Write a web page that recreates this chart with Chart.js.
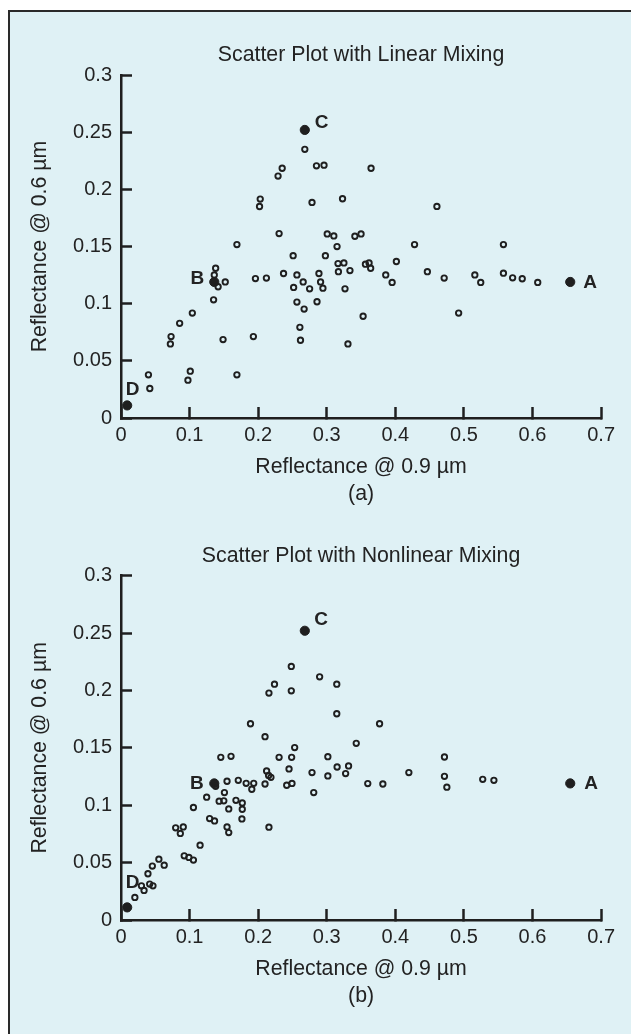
<!DOCTYPE html>
<html>
<head>
<meta charset="utf-8">
<script src="https://cdn.jsdelivr.net/npm/chart.js@4.4.1/dist/chart.umd.min.js"></script>
<style>
  html, body { margin: 0; padding: 0; background: #fff; }
  body { width: 631px; height: 1034px; position: relative; overflow: hidden; }
  .panel { position: absolute; left: 8px; top: 10px; width: 660px; height: 1060px;
           background: #dff1f5; border: 2px solid #2a2a2a; box-sizing: border-box; }
  .wrap { position: absolute; left: 0; width: 631px; }
  #wrapA { top: 0; height: 520px; }
  #wrapB { top: 520px; height: 514px; }
</style>
</head>
<body>
<div class="panel"></div>
<div class="wrap" id="wrapA"><canvas id="chartA"></canvas></div>
<div class="wrap" id="wrapB"><canvas id="chartB"></canvas></div>
<script>
// ---- data ----
const xTickValues = [0, 0.1, 0.2, 0.3, 0.4, 0.5, 0.6, 0.7]
const xTickLabels = ['0', '0.1', '0.2', '0.3', '0.4', '0.5', '0.6', '0.7']
const yTickValues = [0, 0.05, 0.1, 0.15, 0.2, 0.25, 0.3]
const yTickLabels = ['0', '0.05', '0.1', '0.15', '0.2', '0.25', '0.3']

const endmemberNames = ['A', 'B', 'C', 'D']
const endmemberX = [0.655, 0.136, 0.268, 0.009]
const endmemberY = [0.119, 0.119, 0.252, 0.011]

// (a) linear mixing
const linearX = [0.268, 0.235, 0.229, 0.285, 0.296, 0.203, 0.202, 0.2785, 0.323, 0.169,
  0.2305, 0.3007, 0.3103, 0.315, 0.341, 0.350, 0.251, 0.298, 0.3646, 0.4606,
  0.428, 0.5576, 0.138, 0.136, 0.1416, 0.152, 0.135, 0.104, 0.0855, 0.073,
  0.072, 0.1488, 0.040, 0.042, 0.101, 0.0976, 0.169, 0.193, 0.196, 0.212,
  0.237, 0.2565, 0.2517, 0.2656, 0.275, 0.2565, 0.267, 0.2886, 0.291, 0.2944,
  0.2858, 0.2608, 0.2617, 0.3164, 0.325, 0.317, 0.3338, 0.3266, 0.3309, 0.353,
  0.3564, 0.3617, 0.364, 0.4015, 0.386, 0.3953, 0.4467, 0.4712, 0.4923, 0.5159,
  0.5245, 0.5576, 0.571, 0.585, 0.6076]
const linearY = [0.235, 0.2185, 0.2116, 0.2206, 0.2212, 0.1915, 0.185, 0.1886, 0.1918, 0.1517,
  0.1613, 0.161, 0.1593, 0.150, 0.159, 0.161, 0.142, 0.142, 0.2185, 0.1851,
  0.1517, 0.1517, 0.131, 0.1252, 0.1148, 0.119, 0.1034, 0.0918, 0.0828, 0.0712,
  0.0648, 0.0686, 0.0378, 0.0258, 0.041, 0.0331, 0.0378, 0.0712, 0.122, 0.1224,
  0.1264, 0.1252, 0.1142, 0.119, 0.113, 0.1014, 0.0953, 0.1264, 0.119, 0.1136,
  0.1017, 0.0793, 0.068, 0.1351, 0.1357, 0.128, 0.129, 0.113, 0.0648, 0.089,
  0.1346, 0.1357, 0.131, 0.1369, 0.1252, 0.1186, 0.128, 0.1224, 0.0918, 0.1252,
  0.1186, 0.1267, 0.1226, 0.1218, 0.1186]

// (b) nonlinear mixing
const nonlinearX = [0.2483, 0.2896, 0.3146, 0.2238, 0.2157, 0.2483, 0.3146, 0.1888, 0.21, 0.2532,
  0.343, 0.1455, 0.1604, 0.2305, 0.2488, 0.3016, 0.377, 0.4716, 0.3151, 0.3318,
  0.3275, 0.3016, 0.2785, 0.281, 0.245, 0.2123, 0.2186, 0.2152, 0.21, 0.2493,
  0.2416, 0.2157, 0.1546, 0.171, 0.1825, 0.1935, 0.1907, 0.1508, 0.1249, 0.1431,
  0.1499, 0.1676, 0.1768, 0.1571, 0.1768, 0.1056, 0.1292, 0.1364, 0.1763, 0.1546,
  0.1571, 0.0797, 0.0908, 0.0865, 0.1153, 0.0922, 0.099, 0.1056, 0.0552, 0.063,
  0.0457, 0.0393, 0.0298, 0.0418, 0.0466, 0.0336, 0.0202, 0.3598, 0.3818, 0.4197,
  0.4716, 0.4751, 0.5274, 0.5437, 0.138]
const nonlinearY = [0.2209, 0.2119, 0.2055, 0.2055, 0.1977, 0.1997, 0.1797, 0.171, 0.1597, 0.1502,
  0.1539, 0.1417, 0.1426, 0.1417, 0.1417, 0.1423, 0.171, 0.142, 0.1333, 0.1342,
  0.1276, 0.1255, 0.1284, 0.111, 0.1316, 0.1298, 0.1243, 0.126, 0.1185, 0.119,
  0.1174, 0.0809, 0.1209, 0.1217, 0.1191, 0.1191, 0.1139, 0.111, 0.107, 0.1035,
  0.1038, 0.1043, 0.102, 0.0968, 0.0965, 0.098, 0.0884, 0.0863, 0.0881, 0.0811,
  0.0762, 0.0803, 0.0811, 0.0754, 0.0652, 0.0559, 0.0545, 0.0522, 0.053, 0.0478,
  0.047, 0.0403, 0.0298, 0.0313, 0.0298, 0.0258, 0.0197, 0.1189, 0.1185, 0.1284,
  0.1252, 0.1157, 0.1226, 0.1217, 0.1165]

// ---- style ----
const ink = '#1f1f1f'
const textColor = '#232323'
const fontFamily = '"Liberation Sans", Arial, Helvetica, sans-serif'

const toPoints = (xs, ys) => xs.map((x, i) => ({ x, y: ys[i] }))

// labels A-D next to the filled endmember dots
const endmemberLabels = {
  id: 'endmemberLabels',
  afterDatasetsDraw(chart, args, opts) {
    const meta = chart.getDatasetMeta(1)
    const ctx = chart.ctx
    ctx.save()
    ctx.font = 'bold 19px ' + fontFamily
    ctx.fillStyle = textColor
    ctx.textBaseline = 'middle'
    meta.data.forEach((pt, i) => {
      const [dx, dy, align] = opts.offsets[i]
      ctx.textAlign = align
      ctx.fillText(endmemberNames[i], pt.x + dx, pt.y + dy)
    })
    ctx.restore()
  },
}

const axisCommon = (values, labels) => ({
  type: 'linear',
  min: values[0],
  max: values[values.length - 1],
  afterBuildTicks: scale => {
    scale.ticks = values.map(v => ({ value: v }))
  },
  ticks: {
    callback: v => labels[values.indexOf(v)],
    color: textColor,
    font: { family: fontFamily, size: 20 },
    maxRotation: 0,
    autoSkip: false,
  },
  grid: {
    drawOnChartArea: false,
    drawTicks: true,
    tickLength: -11, // ticks point into the plot
    tickWidth: 2.5,
    tickColor: ink,
  },
  border: { display: true, color: ink, width: 2.5 },
})

const makeChart = (id, cfg) => {
  const xAxis = axisCommon(xTickValues, xTickLabels)
  xAxis.afterFit = s => { s.height = 102 }
  xAxis.ticks.padding = 16
  xAxis.title = {
    display: true,
    text: ['Reflectance @ 0.9 µm', cfg.tag],
    color: textColor,
    font: { family: fontFamily, size: 21.3, lineHeight: 1.27 },
    padding: { top: 0, bottom: 12.5 },
  }

  const yAxis = axisCommon(yTickValues, yTickLabels)
  yAxis.afterFit = s => { s.width = 121 }
  yAxis.ticks.padding = 20
  yAxis.title = {
    display: true,
    text: 'Reflectance @ 0.6 µm',
    color: textColor,
    font: { family: fontFamily, size: 21.3, lineHeight: 1.2 },
    padding: { top: 27, bottom: 0 },
  }

  return new Chart(document.getElementById(id), {
    type: 'scatter',
    data: {
      datasets: [
        {
          label: 'mixtures',
          data: toPoints(cfg.xs, cfg.ys),
          pointStyle: 'circle',
          pointRadius: 2.7,
          borderWidth: 1.9,
          borderColor: ink,
          backgroundColor: 'rgba(0,0,0,0)',
        },
        {
          label: 'endmembers',
          data: toPoints(endmemberX, endmemberY),
          pointStyle: 'circle',
          pointRadius: 4.6,
          borderWidth: 1,
          borderColor: ink,
          backgroundColor: ink,
        },
      ],
    },
    options: {
      responsive: true,
      maintainAspectRatio: false,
      animation: false,
      events: [],
      layout: { padding: { left: 0, right: 24, top: 0, bottom: cfg.bottomPad } },
      scales: { x: xAxis, y: yAxis },
      plugins: {
        legend: { display: false },
        tooltip: { enabled: false },
        title: {
          display: true,
          fullSize: false,
          text: cfg.title,
          color: textColor,
          font: { family: fontFamily, size: 21.3, weight: 'normal', lineHeight: 1.2 },
          padding: cfg.titlePadding,
        },
        endmemberLabels: { offsets: cfg.offsets },
      },
    },
    plugins: [endmemberLabels],
  })
}

makeChart('chartA', {
  title: 'Scatter Plot with Linear Mixing',
  tag: '(a)',
  xs: linearX,
  ys: linearY,
  bottomPad: 0,
  titlePadding: { top: 42.4, bottom: 7.1 },
  offsets: [[13, 0.5, 'left'], [-10, -3, 'right'], [10, -7.5, 'left'], [5.5, -15.5, 'center']],
})

makeChart('chartB', {
  title: 'Scatter Plot with Nonlinear Mixing',
  tag: '(b)',
  xs: nonlinearX,
  ys: nonlinearY,
  bottomPad: 12,
  titlePadding: { top: 23.4, bottom: 6.7 },
  offsets: [[14, 0.5, 'left'], [-10.5, 0, 'right'], [9.5, -10.5, 'left'], [5.5, -25, 'center']],
})
</script>
</body>
</html>
